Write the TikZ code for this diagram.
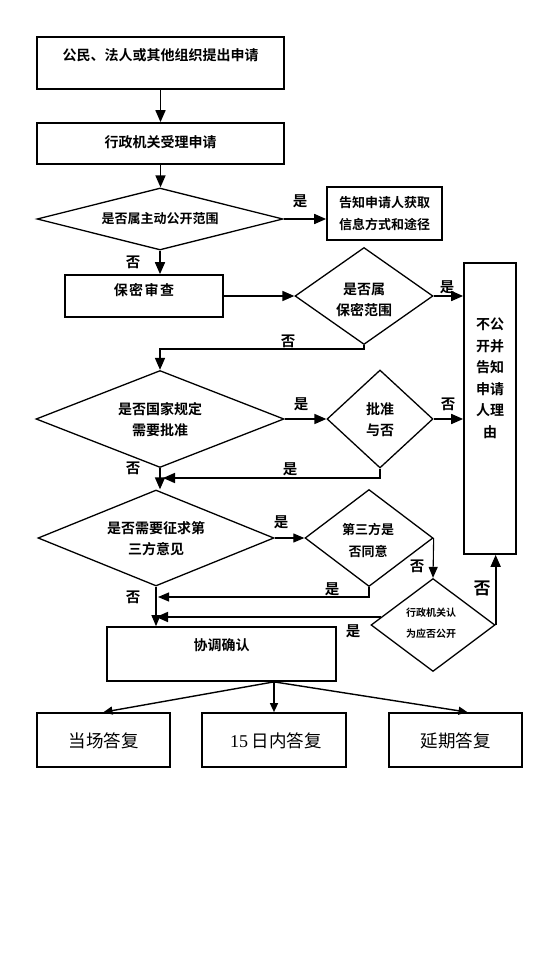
\documentclass[tikz,border=0pt]{standalone}
\usepackage{fontspec}
\newfontfamily\cjkb{Noto Sans CJK SC Bold}
\newfontfamily\cjkr{Noto Sans CJK SC}
\newfontfamily\sernum{Liberation Serif}
\usetikzlibrary{shapes.geometric,arrows.meta,calc}
\begin{document}
\begin{tikzpicture}[x=1pt,y=-1pt,
  box/.style={draw,line width=1.7pt,inner sep=0pt},
  dia/.style={draw,diamond,line width=1.3pt,inner sep=0pt},
  txt/.style={font=\cjkb\fontsize{14}{21}\selectfont,align=center,inner sep=0pt},
  txts/.style={font=\cjkb\fontsize{13}{22}\selectfont,align=center,inner sep=0pt},
  lab/.style={font=\cjkb\fontsize{14.5}{14.5}\selectfont,inner sep=0pt},
  big/.style={font=\cjkr\fontsize{17.5}{17.5}\selectfont,inner sep=0pt},
  arr/.style={line width=1.7pt,-{Triangle[length=12pt,width=10pt]}},
  tarr/.style={line width=1.1pt,-{Triangle[length=11pt,width=9pt]}},
  farr/.style={line width=1.4pt,-{Triangle[length=9pt,width=8pt]}}]
\fill[white] (0,0) rectangle (550,955);
\useasboundingbox (0,0) rectangle (550,955);
% boxes and diamonds
\node[box,minimum width=247pt,minimum height=52pt] (b1) at (160.5,63) {};
\node[txt] (t1) at (160.5,55) {公民、法人或其他组织提出申请};
\node[box,minimum width=247pt,minimum height=41pt] (b2) at (160.5,143.5) {};
\node[txt] (t2) at (160.5,142) {行政机关受理申请};
\node[dia,minimum width=246pt,minimum height=62pt] (d1) at (160,219) {};
\node[txts] (t3) at (160,219) {是否属主动公开范围};
\node[box,minimum width=115pt,minimum height=53pt] (info) at (384.5,213.5) {};
\node[txts] (t4) at (384.5,214) {告知申请人获取\\信息方式和途径};
\node[box,minimum width=158pt,minimum height=42pt] (b3) at (144,296) {};
\node[txt] (t5) at (144,290) {保\hspace{1.5pt}密\hspace{1.5pt}审\hspace{1.5pt}查};
\node[dia,minimum width=138pt,minimum height=97pt] (d2) at (364,296) {};
\node[txt] (t6) at (364,300) {是否属\\保密范围};
\node[box,minimum width=52pt,minimum height=291pt] (tall) at (490,408.5) {};
\node[font=\cjkb\fontsize{14}{21.5}\selectfont,align=center,inner sep=0pt] (t7) at (490,378.5) {不公\\开并\\告知\\申请\\人理\\由};
\node[dia,minimum width=248pt,minimum height=97pt] (d3) at (160,419) {};
\node[txt] (t8) at (160,420) {是否国家规定\\需要批准};
\node[dia,minimum width=106pt,minimum height=98pt] (d4) at (380,419) {};
\node[txt] (t9) at (380,420) {批准\\与否};
\node[dia,minimum width=236pt,minimum height=96pt] (d5) at (156,538) {};
\node[txt] (t10) at (156,539) {是否需要征求第\\三方意见};
\node[dia,minimum width=128pt,minimum height=97pt] (d6) at (369,538) {};
\node[txts] (t11) at (368,540) {第三方是\\否同意};
\node[dia,minimum width=124pt,minimum height=93pt] (d7) at (433,625) {};
\node[font=\cjkb\fontsize{10}{21}\selectfont,align=center,inner sep=0pt] (t12) at (431,623.5) {行政机关认\\为应否公开};
\node[box,minimum width=229pt,minimum height=54pt] (b4) at (221.5,654) {};
\node[txt] (t13) at (221.5,645) {协调确认};
\node[box,minimum width=133pt,minimum height=54pt] (r1) at (103.5,740) {};
\node[big] (t14) at (103.5,741) {当场答复};
\node[box,minimum width=144pt,minimum height=54pt] (r2) at (274,740) {};
\node[big] (t15) at (276,741) {{\sernum\fontsize{18}{18}\selectfont 15} 日内答复};
\node[box,minimum width=133pt,minimum height=54pt] (r3) at (455.5,740) {};
\node[big] (t16) at (455.5,741) {延期答复};
% connectors
\draw[arr] (b1.south) -- (b2.north);
\draw[arr] (b2.south) -- (b2.south |- d1.north);
\draw[arr] (d1.east) -- (d1.east -| info.west);
\draw[arr] (d1.south) -- (d1.south |- b3.north);
\draw[arr] (b3.east) -- (d2.west);
\draw[arr] (d2.east) -- (d2.east -| tall.west);
\draw[arr] (d2.south) -- ++(0,4) -| (d3.north);
\draw[arr] (d3.east) -- (d4.west);
\draw[arr] (d4.east) -- (d4.east -| tall.west);
\coordinate (j1) at (163,478);
\draw[arr] (d4.south) |- (j1);
\draw[arr] (d3.south) -- (d3.south |- d5.north);
\draw[tarr] (d5.east) -- (d6.west);
\draw[tarr] (d6.east) -- (d7.north);
\coordinate (j2) at (158,597);
\draw[tarr] (d6.south) |- (j2);
\draw[tarr] (d5.south) -- (d5.south |- b4.north);
\coordinate (p7) at ($(d7.west)!0.17!(d7.north)$);
\draw[arr] (p7) -- (p7 -| d5.south);
\draw[arr] (d7.east) -- (d7.east |- tall.south);
\coordinate (fan) at (b4.south -| r2.north);
\draw[farr] (fan) -- (r1.north);
\draw[farr] (fan) -- (r2.north);
\draw[farr] (fan) -- ([xshift=12pt]r3.north);
% labels
\node[lab] (y1) at (300,201) {是};
\node[lab] (n1) at (133,262) {否};
\node[lab] (y2) at (447,287) {是};
\node[lab] (n2) at (288,341) {否};
\node[lab] (y3) at (301,404) {是};
\node[lab] (n3) at (448,404) {否};
\node[lab] (y4) at (290,469) {是};
\node[lab] (n4) at (133,468) {否};
\node[lab] (y5) at (281,522) {是};
\node[lab] (n5) at (417,566) {否};
\node[lab] (y6) at (332,589) {是};
\node[lab] (n6) at (133,597) {否};
\node[lab] (y7) at (353,631) {是};
\node[lab,font=\cjkb\fontsize{17}{17}\selectfont] (n7) at (482,588) {否};
\end{tikzpicture}
\end{document}
